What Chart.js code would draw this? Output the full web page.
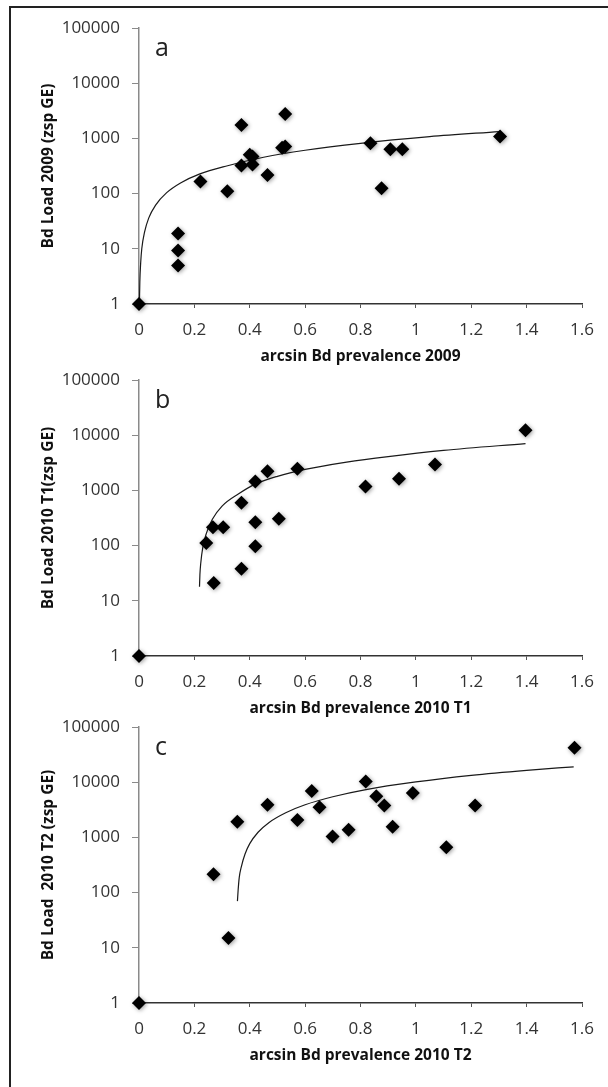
<!DOCTYPE html>
<html>
<head>
<meta charset="utf-8">
<script src="https://cdn.jsdelivr.net/npm/chart.js@4.4.1/dist/chart.umd.min.js"></script>
<style>
  html, body { margin: 0; padding: 0; background: #fff; }
  body { width: 608px; height: 1087px; position: relative; overflow: hidden; }
  .frame { position: absolute; left: 9px; top: 6px; width: 640px; height: 1120px;
           border-top: 2px solid #222; border-left: 2px solid #222; }
  canvas { position: absolute; left: 0; }
</style>
</head>
<body>
<div class="frame"></div>
<canvas id="chartA" width="608" height="372" style="top:0px"></canvas>
<canvas id="chartB" width="608" height="372" style="top:352px"></canvas>
<canvas id="chartC" width="608" height="372" style="top:699px"></canvas>
<script>
// ticks
const xTickValues = [0, 0.2, 0.4, 0.6, 0.8, 1, 1.2, 1.4, 1.6];
const xTickLabels = ['0', '0.2', '0.4', '0.6', '0.8', '1', '1.2', '1.4', '1.6'];
const yTickValues = [1, 10, 100, 1000, 10000, 100000];
const yTickLabels = ['1', '10', '100', '1000', '10000', '100000'];

// panel a - 2009
const prevA = [0, 0.141, 0.141, 0.141, 0.222, 0.319, 0.370, 0.370, 0.400, 0.410, 0.410, 0.464, 0.517, 0.528, 0.528, 0.836, 0.876, 0.908, 0.951, 1.304];
const loadA = [1, 19, 9.3, 5, 165, 110, 1740, 322, 505, 470, 335, 218, 680, 710, 2780, 817, 125, 635, 635, 1080];
const trendPrevA = [0.0015, 0.003, 0.006, 0.01, 0.02, 0.035, 0.06, 0.1, 0.15, 0.22, 0.32, 0.45, 0.6, 0.8, 1.05, 1.3];
const trendLoadA = [1, 2.5, 5.5, 10, 20, 36, 62, 104, 156, 228, 320, 455, 610, 815, 1075, 1330];

// panel b - 2010 T1
const prevB = [0, 0.243, 0.267, 0.304, 0.270, 0.370, 0.370, 0.420, 0.420, 0.420, 0.464, 0.505, 0.572, 0.818, 0.939, 1.069, 1.396];
const loadB = [1, 112, 215, 215, 21, 600, 38, 1450, 265, 97, 2230, 305, 2470, 1180, 1620, 2960, 12300];
const trendPrevB = [0.2185, 0.22, 0.223, 0.23, 0.243, 0.265, 0.3, 0.36, 0.42, 0.5, 0.6, 0.75, 0.9, 1.1, 1.396];
const trendLoadB = [18, 30, 48, 90, 165, 300, 520, 870, 1300, 1800, 2400, 3250, 4100, 5300, 7060];

// panel c - 2010 T2
const prevC = [0, 0.269, 0.323, 0.355, 0.464, 0.572, 0.624, 0.652, 0.699, 0.757, 0.819, 0.857, 0.886, 0.916, 0.989, 1.110, 1.214, 1.573];
const loadC = [1, 215, 15, 1930, 3920, 2065, 6900, 3510, 1040, 1370, 10300, 5560, 3770, 1560, 6380, 660, 3770, 42000];
const trendPrevC = [0.3555, 0.358, 0.362, 0.37, 0.383, 0.4, 0.43, 0.47, 0.53, 0.6, 0.7, 0.82, 1.0, 1.2, 1.4, 1.57];
const trendLoadC = [70, 110, 187, 300, 500, 770, 1240, 1870, 2800, 3900, 5450, 7350, 10100, 13300, 16400, 19000];

const tickFont = { family: '"Open Sans", sans-serif', size: 17 };
const titleFont = { family: '"Open Sans", sans-serif', size: 15.5, weight: 'bold' };

// panel letter drawn in the top-left of the plot area
const panelLetter = {
    id: 'panelLetter',
    afterDraw(chart, args, opts) {
        const { ctx, chartArea } = chart;
        ctx.save();
        ctx.font = '25px "Open Sans", sans-serif';
        ctx.fillStyle = '#222';
        ctx.textBaseline = 'alphabetic';
        ctx.fillText(opts.text, chartArea.left + 16, chartArea.top + 28);
        ctx.restore();
    }
};

// soft shadow under the diamonds
const markerShadow = {
    id: 'markerShadow',
    beforeDatasetDraw(chart, args) {
        if (args.index !== 0) return;
        const ctx = chart.ctx;
        ctx.save();
        ctx.shadowColor = 'rgba(0,0,0,0.4)';
        ctx.shadowBlur = 4;
        ctx.shadowOffsetX = 1;
        ctx.shadowOffsetY = 1;
    },
    afterDatasetDraw(chart, args) {
        if (args.index === 0) chart.ctx.restore();
    }
};

function makePanel(id, letter, xTitle, yTitle, prev, load, trendPrev, trendLoad) {
    const ctx = document.getElementById(id).getContext('2d');
    return new Chart(ctx, {
        type: 'scatter',
        data: {
            datasets: [{
                data: prev.map((x, i) => ({ x: x, y: load[i] })),
                pointStyle: 'rectRot',
                pointRadius: 7,
                pointBackgroundColor: '#000',
                pointBorderColor: '#000',
                pointBorderWidth: 0,
                clip: false
            }, {
                type: 'line',
                data: trendPrev.map((x, i) => ({ x: x, y: trendLoad[i] })),
                borderColor: '#1a1a1a',
                borderWidth: 1.2,
                pointRadius: 0,
                fill: false,
                cubicInterpolationMode: 'monotone'
            }]
        },
        options: {
            responsive: false,
            animation: false,
            devicePixelRatio: 1,
            layout: { padding: { left: 36, right: 26, top: 28, bottom: 0 } },
            plugins: {
                legend: { display: false },
                tooltip: { enabled: false },
                panelLetter: { text: letter }
            },
            scales: {
                x: {
                    type: 'linear',
                    min: 0,
                    max: 1.6,
                    afterBuildTicks: s => { s.ticks = xTickValues.map(v => ({ value: v })); },
                    afterFit: s => { s.height = 68; },
                    ticks: {
                        callback: (v, i) => xTickLabels[i],
                        font: tickFont,
                        color: '#333',
                        padding: 12,
                        maxRotation: 0,
                        autoSkip: false
                    },
                    grid: { drawOnChartArea: false, drawTicks: true, tickLength: 4, color: '#555', lineWidth: 1 },
                    border: { display: true, color: '#333', width: 1.5 },
                    title: { display: true, text: xTitle, font: titleFont, color: '#111', padding: { top: 0, bottom: 5.7 } }
                },
                y: {
                    type: 'logarithmic',
                    min: 1,
                    max: 100000,
                    afterBuildTicks: s => { s.ticks = yTickValues.map(v => ({ value: v })); },
                    afterFit: s => { s.width = 103; },
                    ticks: {
                        callback: (v, i) => yTickLabels[i],
                        font: tickFont,
                        color: '#333',
                        padding: 12,
                        autoSkip: false
                    },
                    grid: { drawOnChartArea: false, drawTicks: true, tickLength: 7, color: '#8a8a8a', lineWidth: 1 },
                    border: { display: true, color: '#8a8a8a', width: 1.5 },
                    title: { display: true, text: yTitle, font: titleFont, color: '#111', padding: { top: 3.7, bottom: 0 } }
                }
            }
        },
        plugins: [panelLetter, markerShadow]
    });
}

makePanel('chartA', 'a', 'arcsin Bd prevalence 2009', 'Bd Load 2009 (zsp GE)',
    prevA, loadA, trendPrevA, trendLoadA);
makePanel('chartB', 'b', 'arcsin Bd prevalence 2010 T1', 'Bd Load 2010 T1(zsp GE)',
    prevB, loadB, trendPrevB, trendLoadB);
makePanel('chartC', 'c', 'arcsin Bd prevalence 2010 T2', 'Bd Load  2010 T2 (zsp GE)',
    prevC, loadC, trendPrevC, trendLoadC);
</script>
</body>
</html>
